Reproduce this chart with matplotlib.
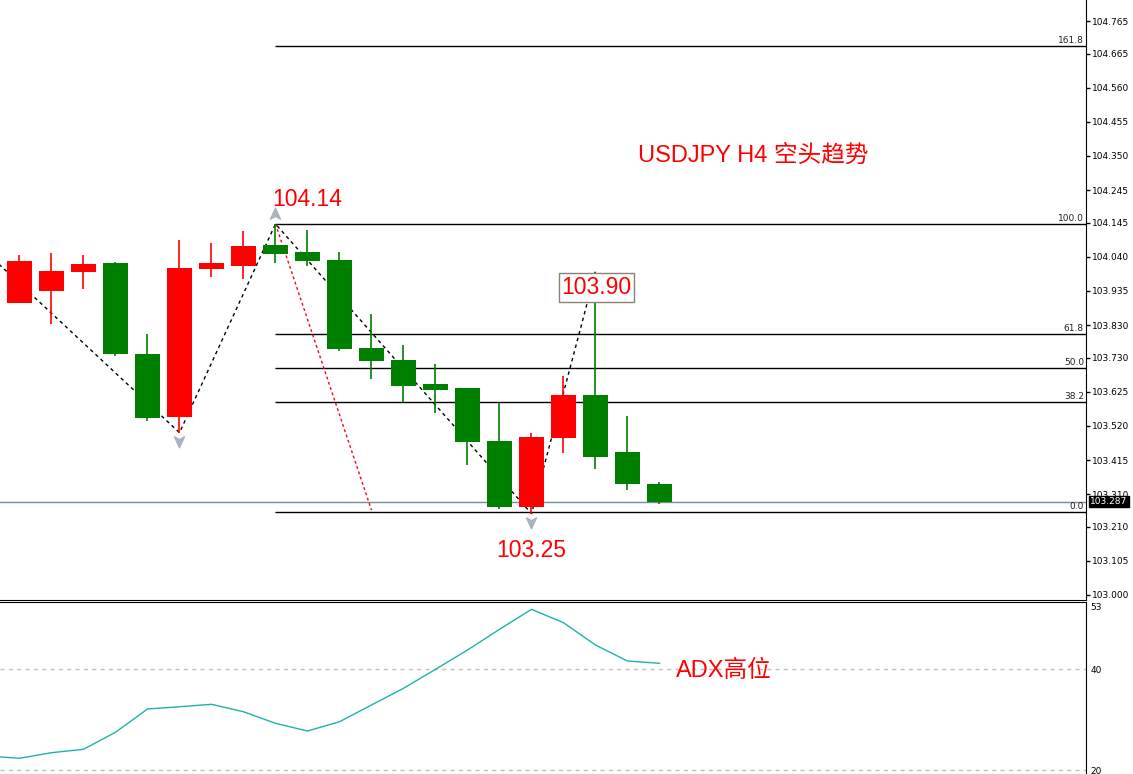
import matplotlib
matplotlib.use("Agg")
import matplotlib.pyplot as plt
from matplotlib.transforms import offset_copy
from matplotlib.path import Path

# ---------------- data ----------------
# candle index 0..20 (H4 bars), red = up bar, green = down bar
opens  = [103.899, 103.936, 103.994, 104.021, 103.741, 103.548, 104.003, 104.013,
          104.076, 104.055, 104.030, 103.760, 103.723, 103.649, 103.637, 103.474,
          103.272, 103.484, 103.615, 103.440, 103.341]
highs  = [104.046, 104.052, 104.046, 104.024, 103.803, 104.092, 104.082, 104.119,
          104.141, 104.122, 104.055, 103.864, 103.768, 103.710, 103.637, 103.591,
          103.499, 103.673, 103.994, 103.550, 103.347]
lows   = [103.897, 103.834, 103.941, 103.736, 103.536, 103.499, 103.979, 103.973,
          104.022, 104.013, 103.751, 103.665, 103.593, 103.561, 103.401, 103.265,
          103.250, 103.438, 103.388, 103.324, 103.281]
closes = [104.027, 103.996, 104.018, 103.742, 103.545, 104.006, 104.021, 104.073,
          104.050, 104.027, 103.757, 103.720, 103.644, 103.631, 103.471, 103.272,
          103.486, 103.615, 103.425, 103.342, 103.287]

adx_x = list(range(-1, 21))
adx   = [22.77, 22.32, 23.43, 24.10, 27.47, 32.08, 32.53, 33.01, 31.54, 29.25, 27.72,
         29.56, 32.87, 36.18, 39.94, 43.76, 47.86, 51.82, 49.17, 44.75, 41.58, 41.13]

zigzag_x = [-1, 5, 8, 16, 18]
zigzag_y = [104.050, 103.499, 104.141, 103.250, 103.994]

fib_start = 8
fib_high = 104.141
fib_low = 103.255
fib_ratios = [161.8, 100.0, 61.8, 50.0, 38.2, 0.0]
fib_trend_x = [8, 11]
fib_trend_y = [104.141, 103.261]

current_price = 103.287
price_ticks = [104.765, 104.665, 104.560, 104.455, 104.350, 104.245, 104.145, 104.040,
               103.935, 103.830, 103.730, 103.625, 103.520, 103.415, 103.310, 103.210,
               103.105, 103.000]
adx_ticks = [40, 20]
adx_top_label = "53"

title_text = "USDJPY H4 空头趋势"
label_high = "104.14"
label_low = "103.25"
label_box = "103.90"
label_adx = "ADX高位"

# ---------------- figure ----------------
W, H = 1133, 774
fig = plt.figure(figsize=(W / 100, H / 100), dpi=100)
fig.patch.set_facecolor("white")
axw = 1086 / W
ax = fig.add_axes([0, 1 - 599.5 / H, axw, 599.5 / H])
ax2 = fig.add_axes([0, 0, axw, 172.5 / H])

xlim = (-0.609, 33.328)
ax.set_xlim(*xlim)
ax.set_ylim(102.986, 104.8297)
ax2.set_xlim(*xlim)
ax2.set_ylim(19.21, 53.37)

TXT = ["Liberation Sans", "Noto Sans CJK SC", "DejaVu Sans"]
RED = "#ff0000"
GREEN = "#008000"

# current price line
ax.axhline(current_price, color="#778899", lw=1, zorder=1)

# fib levels
for r in fib_ratios:
    lvl = fib_low + r / 100.0 * (fib_high - fib_low)
    ax.hlines(lvl, fib_start, xlim[1], color="black", lw=1, zorder=1)
    ax.annotate(f"{r:.1f}", xy=(1, lvl), xycoords=("axes fraction", "data"),
                xytext=(-2, 1), textcoords="offset pixels", ha="right", va="bottom",
                fontsize=6.5, family="DejaVu Sans", color="#222222")

# fib trend line
ax.plot(fib_trend_x, fib_trend_y, color=RED, lw=1, ls=(0, (2, 2)), zorder=2)

# zigzag
ax.plot(zigzag_x, zigzag_y, color="black", lw=1, ls=(0, (2.5, 2.5)), zorder=2)

# candles
xs = list(range(len(opens)))
for i in xs:
    o, h, l, c = opens[i], highs[i], lows[i], closes[i]
    col = RED if c >= o else GREEN
    ax.vlines(i, l, h, color=col, lw=1.2, zorder=3)
    ax.bar(i, c - o, bottom=o, width=0.78, color=col, edgecolor="none", zorder=4)

# arrow markers
down_path = Path([(0, -1), (-0.8, 0.75), (0, 0.3), (0.8, 0.75), (0, -1)],
                 [Path.MOVETO, Path.LINETO, Path.LINETO, Path.LINETO, Path.CLOSEPOLY])
up_path = Path([(0, 1), (-0.8, -0.75), (0, -0.3), (0.8, -0.75), (0, 1)],
               [Path.MOVETO, Path.LINETO, Path.LINETO, Path.LINETO, Path.CLOSEPOLY])
ax.plot([5, 16], [lows[5], lows[16]], ls="none", marker=down_path, ms=9,
        color="#aab2bc", transform=offset_copy(ax.transData, fig, x=0, y=-8, units="dots"),
        zorder=5)
ax.plot([8], [highs[8]], ls="none", marker=up_path, ms=9,
        color="#aab2bc", transform=offset_copy(ax.transData, fig, x=0, y=10, units="dots"),
        zorder=5)

# text annotations
ax.text(19.33, 104.332, title_text, color=RED, fontsize=17, family=TXT,
        ha="left", va="baseline", zorder=6)
ax.text(7.89, 104.197, label_high, color=RED, fontsize=16.5, family=TXT,
        ha="left", va="baseline", zorder=6)
ax.text(14.91, 103.118, label_low, color=RED, fontsize=16.5, family=TXT,
        ha="left", va="baseline", zorder=6)
ax.text(16.94, 103.926, label_box, color=RED, fontsize=16.5, family=TXT,
        ha="left", va="baseline", zorder=7,
        bbox=dict(boxstyle="square,pad=0.12", fc="white", ec="#8c8074", lw=1))

# axes styling main
for s in ["top", "left"]:
    ax.spines[s].set_visible(False)
ax.spines["right"].set_color("black")
ax.spines["bottom"].set_color("black")
ax.set_xticks([])
ax.yaxis.tick_right()
ax.set_yticks(price_ticks)
ax.set_yticklabels([f"{t:.3f}" for t in price_ticks])
ax.tick_params(axis="y", length=3, width=1, pad=1.5, labelsize=6.5, colors="black")
for lab in ax.get_yticklabels():
    lab.set_family("DejaVu Sans")

ax.annotate(f"{current_price:.3f}", xy=(1, current_price), xycoords=("axes fraction", "data"),
            xytext=(4, 0), textcoords="offset pixels", ha="left", va="center",
            fontsize=6.5, family="DejaVu Sans", color="white", zorder=10,
            annotation_clip=False,
            bbox=dict(boxstyle="square,pad=0.15", fc="black", ec="black"))

# indicator
for lv in adx_ticks:
    ax2.axhline(lv, color="#c0c0c0", lw=1, ls=(0, (3, 3)), zorder=1)
ax2.plot(adx_x, adx, color="#20b2aa", lw=1, zorder=3)
ax2.text(20.52, 38.48, label_adx, color=RED, fontsize=17, family=TXT,
         ha="left", va="baseline", zorder=6)
for s in ["left", "bottom"]:
    ax2.spines[s].set_visible(False)
ax2.spines["top"].set_color("black")
ax2.spines["right"].set_color("black")
ax2.set_xticks([])
ax2.yaxis.tick_right()
ax2.set_yticks(adx_ticks)
ax2.set_yticklabels([str(t) for t in adx_ticks])
ax2.tick_params(axis="y", length=0, pad=3, labelsize=6.5, colors="black")
for lab in ax2.get_yticklabels():
    lab.set_family("DejaVu Sans")
ax2.annotate(adx_top_label, xy=(1, 1), xycoords="axes fraction", xytext=(4, -2),
             textcoords="offset pixels", ha="left", va="top", fontsize=6.5,
             family="DejaVu Sans", color="black", annotation_clip=False)

fig.savefig("out.png", dpi=100, facecolor="white")
